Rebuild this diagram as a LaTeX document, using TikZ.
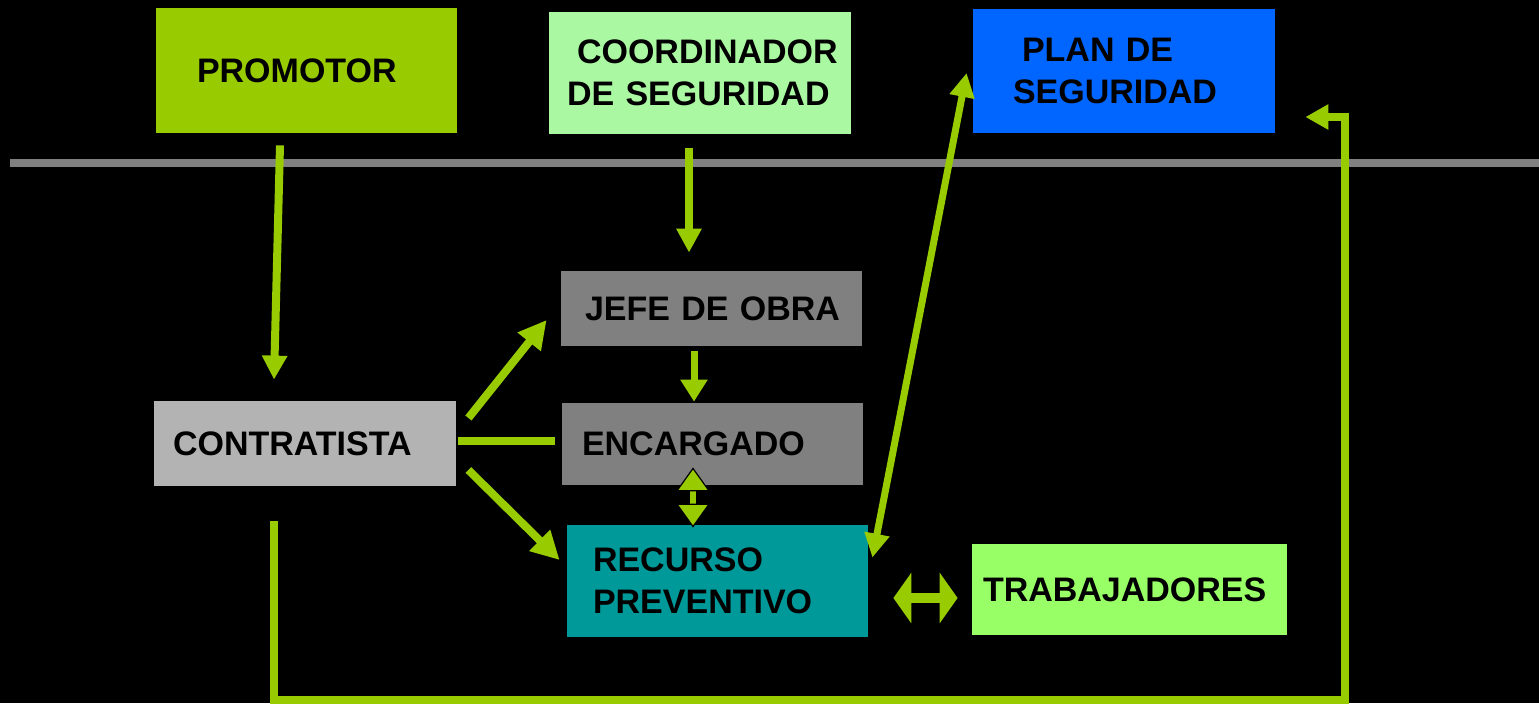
\documentclass[tikz,border=0pt]{standalone}
\usepackage{fontspec}
\setmainfont{Liberation Sans}
\usetikzlibrary{arrows.meta,calc}
\definecolor{arrgreen}{HTML}{99CC00}
\definecolor{promocol}{HTML}{99CC00}
\definecolor{coordcol}{HTML}{AAF8A2}
\definecolor{plancol}{HTML}{0066FF}
\definecolor{darkgray}{HTML}{808080}
\definecolor{contcol}{HTML}{B3B3B3}
\definecolor{recucol}{HTML}{009999}
\definecolor{trabcol}{HTML}{99FF66}
\begin{document}
\begin{tikzpicture}[x=0.5pt,y=-0.5pt,
  box/.style={draw=none, inner xsep=0pt, inner ysep=0pt, align=left,
    font=\fontsize{17}{21}\selectfont\bfseries, text=black},
  arr/.style={draw=arrgreen, line width=4pt, -{Triangle[length=12pt,width=12pt]}},
  plainline/.style={draw=arrgreen, line width=4pt},
  sep/.style={draw=darkgray, line width=4pt}]
\useasboundingbox (0,0) rectangle (1539,703);
\fill[black] (0,0) rectangle (1539,703);

% separator
\coordinate (sepL) at (10,163);
\coordinate (sepR) at (1539,163);
\draw[sep] (sepL) -- (sepR);

% boxes
\node[box, fill=promocol, minimum width=150.5pt, minimum height=62.5pt, text width=109.5pt] (promotor) at (306.5,70.5) {\mbox{PROMOTOR}};
\node[box, fill=coordcol, minimum width=151pt, minimum height=61pt, text width=133pt] (coord) at (700,73) {\mbox{\hspace*{5pt}COORDINADOR}\\\mbox{DE SEGURIDAD}};
\node[box, fill=plancol, minimum width=151pt, minimum height=62pt, text width=111pt] (plan) at (1124,71) {\mbox{\hspace*{4.5pt}PLAN DE}\\\mbox{SEGURIDAD}};
\node[box, fill=darkgray, minimum width=150.5pt, minimum height=37.5pt, text width=126.5pt] (jefe) at (711.5,308.5) {\mbox{JEFE DE OBRA}};
\node[box, fill=contcol, minimum width=151pt, minimum height=42.5pt, text width=132pt] (contratista) at (305,443.5) {\mbox{CONTRATISTA}};
\node[box, fill=darkgray, minimum width=150.5pt, minimum height=41pt, text width=130.5pt] (encargado) at (712.5,444) {\mbox{ENCARGADO}};
\node[box, fill=recucol, minimum width=150.5pt, minimum height=56pt, text width=124.5pt] (recurso) at (717.5,581) {\mbox{RECURSO}\\\mbox{PREVENTIVO}};
\node[box, fill=trabcol, minimum width=157.5pt, minimum height=45.5pt, text width=146.5pt] (trabajadores) at (1129.5,589.5) {\mbox{TRABAJADORES}};

% connectors
\draw[arr] ($(promotor.south)+(-26.5,12)$) -- ($(contratista.north)+(-31,-21)$);
\draw[arr] ($(coord.south)+(-11,14)$) -- ($(jefe.north)+(-22.5,-18)$);
\draw[arr, -{Triangle[length=14pt,width=14pt]}] ($(contratista.east)+(12,-25.5)$) -- ($(jefe.west)+(-14,11.5)$);
\draw[plainline] ($(contratista.east)+(2,-2.5)$) -- ($(encargado.west)+(-7,-3)$);
\draw[arr, -{Triangle[length=14pt,width=14pt]}] ($(contratista.east)+(12,26.5)$) -- ($(recurso.west)+(-7,-21)$);
\draw[arr, line width=3.5pt, -{Triangle[length=11pt,width=13pt]}] ($(jefe.south)+(-17.5,5)$) -- ($(encargado.north)+(-18.5,-1)$);
\draw[draw=arrgreen, line width=3pt,
  {Triangle[length=12pt,width=17pt,color=black,fill=arrgreen,line width=0.6pt]}-{Triangle[length=12pt,width=17pt,color=black,fill=arrgreen,line width=0.6pt]}]
  ($(encargado.south)+(-19.5,-18)$) -- ($(recurso.north)+(-24.5,3)$);
\draw[draw=arrgreen, line width=3.5pt,
  {Triangle[length=12pt,width=12pt]}-{Triangle[length=12pt,width=12pt]}]
  ($(recurso.north east)+(4,33)$) -- ($(plan.west)+(-6,2)$);
\draw[draw=arrgreen, line width=5pt,
  {Triangle[length=9pt,width=25pt]}-{Triangle[length=9pt,width=25pt]}]
  ($(recurso.east)+(25,17)$) -- ($(trabajadores.west)+(-14,8.5)$);
\coordinate (loopc) at (1345,700);
\draw[arr, line join=miter, -{Triangle[length=11.5pt,width=12pt]}] ($(contratista.south)+(-31,35)$) |- (loopc) |- ($(plan.east)+(30,46)$);
\end{tikzpicture}
\end{document}
